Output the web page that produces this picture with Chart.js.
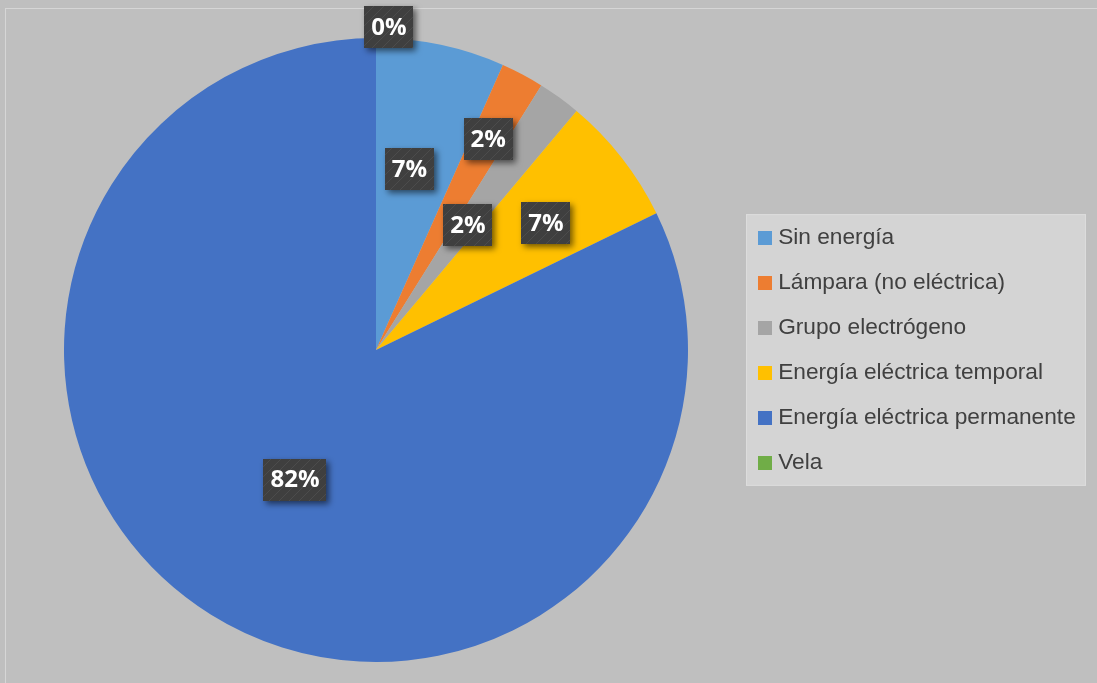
<!DOCTYPE html>
<html lang="es">
<head>
<meta charset="utf-8">
<title>Fuente de alumbrado</title>
<script src="https://cdn.jsdelivr.net/npm/chart.js@4.4.1/dist/chart.umd.min.js"></script>
<style>
  html, body { margin: 0; padding: 0; background: #bfbfbf; }
  canvas { display: block; }
</style>
</head>
<body>
<canvas id="chart" width="1097" height="683"></canvas>
<script>
const categories = ['Sin energía', 'Lámpara (no eléctrica)', 'Grupo electrógeno', 'Energía eléctrica temporal', 'Energía eléctrica permanente', 'Vela'];
const households = [3, 1, 1, 3, 37, 0];
const sliceColors = ['#5b9bd5', '#ed7d31', '#a5a5a5', '#ffc000', '#4472c4', '#70ad47'];

// where each percentage box sits: fraction of the radius + small angle nudge (degrees)
const labelRadius = [0.59, 0.766, 0.497, 0.68, 0.49, 1.035];
const labelNudge = [-1.5, 0, 0.4, 1.2, 0, 2.3];

const LEGEND_WIDTH = 356;
const SWATCH = 14;

// dark textured fill for the label boxes
function makeLabelPattern(ctx) {
  const c = document.createElement('canvas');
  c.width = 10; c.height = 10;
  const p = c.getContext('2d');
  p.fillStyle = '#3f3f3f';
  p.fillRect(0, 0, 10, 10);
  p.strokeStyle = 'rgba(255,255,255,0.07)';
  p.lineWidth = 1;
  p.beginPath();
  p.moveTo(0, 10); p.lineTo(10, 0);
  p.stroke();
  return ctx.createPattern(c, 'repeat');
}

const frameAndLegendBox = {
  id: 'frameAndLegendBox',
  beforeInit(chart) {
    // pin the legend width so the pie stays where it belongs
    const fit = chart.legend.fit;
    chart.legend.fit = function () {
      fit.call(this);
      this.width = LEGEND_WIDTH;
    };
  },
  beforeDraw(chart) {
    const ctx = chart.ctx;
    ctx.save();
    ctx.fillStyle = '#bfbfbf';
    ctx.fillRect(0, 0, chart.width, chart.height);
    ctx.strokeStyle = '#d6d6d6';
    ctx.lineWidth = 1;
    ctx.strokeRect(5.5, 8.5, chart.width + 20, chart.height + 20);

    const legend = chart.legend;
    const boxes = legend.legendHitBoxes;
    if (boxes && boxes.length) {
      const top = Math.min(...boxes.map(b => b.top)) - 12;
      const bottom = Math.max(...boxes.map(b => b.top + b.height)) + 12;
      const left = legend.left + 10;
      const right = legend.left + 350;
      ctx.fillStyle = '#d4d4d4';
      ctx.fillRect(left, top, right - left, bottom - top);
      ctx.strokeStyle = '#dcdcdc';
      ctx.strokeRect(left + 0.5, top + 0.5, right - left - 1, bottom - top - 1);
    }
    ctx.restore();
  },
  afterDraw(chart) {
    // colour squares sit closer to the text than the default legend box allows
    const ctx = chart.ctx;
    const boxes = chart.legend.legendHitBoxes || [];
    ctx.save();
    boxes.forEach((b, i) => {
      ctx.fillStyle = sliceColors[i];
      ctx.fillRect(Math.round(b.left), Math.round(b.top + (b.height - SWATCH) / 2), SWATCH, SWATCH);
    });
    ctx.restore();
  }
};

const percentLabels = {
  id: 'percentLabels',
  afterDatasetsDraw(chart) {
    const ctx = chart.ctx;
    const meta = chart.getDatasetMeta(0);
    const total = households.reduce((a, b) => a + b, 0);
    const pattern = makeLabelPattern(ctx);
    ctx.save();
    ctx.font = 'bold 24px "Open Sans", "DejaVu Sans", sans-serif';
    ctx.textAlign = 'center';
    ctx.textBaseline = 'middle';
    meta.data.forEach((arc, i) => {
      const { x, y, startAngle, endAngle, outerRadius } =
        arc.getProps(['x', 'y', 'startAngle', 'endAngle', 'outerRadius'], true);
      const mid = (startAngle + endAngle) / 2 + labelNudge[i] * Math.PI / 180;
      const r = outerRadius * labelRadius[i];
      const cx = x + Math.cos(mid) * r;
      const cy = y + Math.sin(mid) * r;
      const text = Math.round(households[i] / total * 100) + '%';
      const w = ctx.measureText(text).width + 14;
      const h = 42;

      ctx.save();
      ctx.shadowColor = 'rgba(0,0,0,0.55)';
      ctx.shadowBlur = 6;
      ctx.shadowOffsetX = 3;
      ctx.shadowOffsetY = 3;
      ctx.fillStyle = pattern;
      ctx.fillRect(Math.round(cx - w / 2), Math.round(cy - h / 2), Math.round(w), h);
      ctx.restore();

      ctx.fillStyle = '#ffffff';
      ctx.fillText(text, cx, cy + 1);
    });
    ctx.restore();
  }
};

new Chart(document.getElementById('chart'), {
  type: 'pie',
  data: {
    labels: categories,
    datasets: [{
      data: households,
      backgroundColor: sliceColors,
      borderWidth: 0,
      hoverOffset: 0,
      offset: 0
    }]
  },
  options: {
    responsive: false,
    animation: false,
    devicePixelRatio: 1,
    layout: {
      padding: { left: 16, right: 5, top: 38, bottom: 21 }
    },
    plugins: {
      tooltip: { enabled: false },
      legend: {
        position: 'right',
        align: 'center',
        labels: {
          boxWidth: 8.5,
          boxHeight: 14,
          padding: 22.3,
          color: '#404040',
          font: { family: '"Liberation Sans", Arial, sans-serif', size: 22.7 },
          generateLabels(chart) {
            return Chart.overrides.pie.plugins.legend.labels.generateLabels(chart).map(item => ({
              ...item,
              fillStyle: 'rgba(0,0,0,0)',
              strokeStyle: 'rgba(0,0,0,0)',
              lineWidth: 0
            }));
          }
        }
      }
    }
  },
  plugins: [frameAndLegendBox, percentLabels]
});
</script>
</body>
</html>
